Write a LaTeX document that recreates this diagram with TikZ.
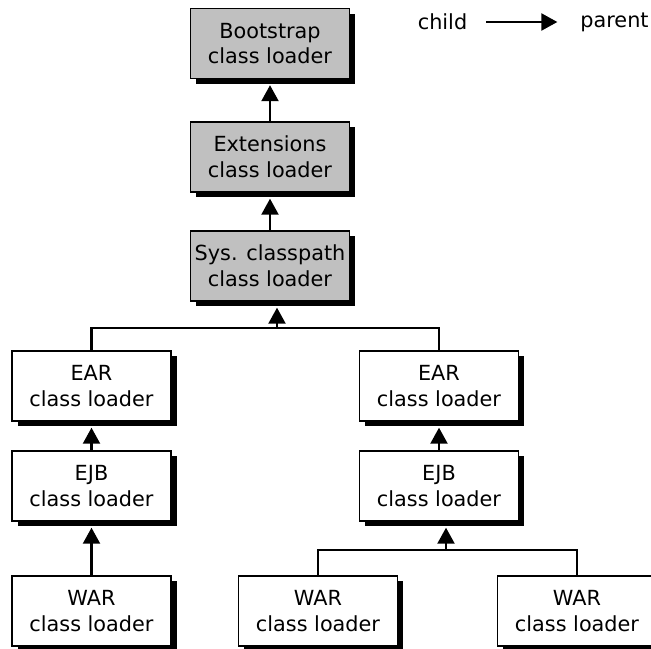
\documentclass[tikz,border=0pt]{standalone}
\usepackage{fontspec}
\setmainfont{DejaVu Sans}
\usepackage{xcolor}
\usepackage{tikz}
\usetikzlibrary{shapes,arrows.meta,positioning,calc,shadows}
\definecolor{boxgray}{RGB}{192,192,192}

\begin{document}
\begin{tikzpicture}[x=0.5pt, y=-0.5pt, every node/.style={font=\fontsize{10.4}{12.8}\selectfont},
  loader/.style={rectangle, draw=black, line width=0.7pt, fill=white, minimum width=79.5pt, minimum height=35pt, align=center, inner sep=0pt, drop shadow={shadow xshift=2.75pt, shadow yshift=-2.6pt, opacity=1, fill=black}},
  sysloader/.style={loader, fill=boxgray},
  link/.style={line width=1.1pt},
  conn/.style={line width=1.1pt, -{Triangle[length=8pt, width=8.5pt]}}]
\useasboundingbox (0,0) rectangle (651,648);
\clip (0,0) rectangle (651,648);
% system side
\node[sysloader] (boot) at (270,43.5) {Bootstrap\\class loader};
\node[sysloader, below of=boot, node distance=56.75pt] (ext) {Extensions\\class loader};
\node[sysloader, below of=ext, node distance=54.5pt] (sys) {Sys. classpath\\class loader};
% application side
\node[loader] (earL) at (91.5,386) {EAR\\class loader};
\node[loader, below of=earL, node distance=50pt] (ejbL) {EJB\\class loader};
\node[loader, below of=ejbL, node distance=62.5pt] (warL) {WAR\\class loader};
\node[loader] (earR) at (439,386) {EAR\\class loader};
\node[loader, below of=earR, node distance=50pt] (ejbR) {EJB\\class loader};
\node[loader] (warM) at (318,611) {WAR\\class loader};
\node[loader] (warR) at (577,611) {WAR\\class loader};
% legend
\node (child) at (442.5,22) {child};
\node (parent) at (614.5,22) {parent};
\draw[conn, shorten <=6pt, shorten >=8pt] (child) -- (parent);
% arrows
\draw[conn, shorten >=3pt] (ext) -- (boot);
\draw[conn, shorten >=3pt] (sys) -- (ext);
\draw[conn, shorten >=3pt] (ejbL) -- (earL);
\draw[conn, shorten >=3pt] (warL) -- (ejbL);
\draw[conn, shorten >=3pt] (ejbR) -- (earR);
\coordinate (topjoin) at (277,328);
\draw[link] (earL.north) |- (topjoin) -| (earR.north);
\draw[conn, shorten >=3pt] (topjoin) -- (topjoin |- sys.south);
\coordinate (botjoin) at (446,550);
\draw[link] (warM.north) |- (botjoin) -| (warR.north);
\draw[conn, shorten >=3pt] (botjoin) -- (botjoin |- ejbR.south);
\end{tikzpicture}
\end{document}
